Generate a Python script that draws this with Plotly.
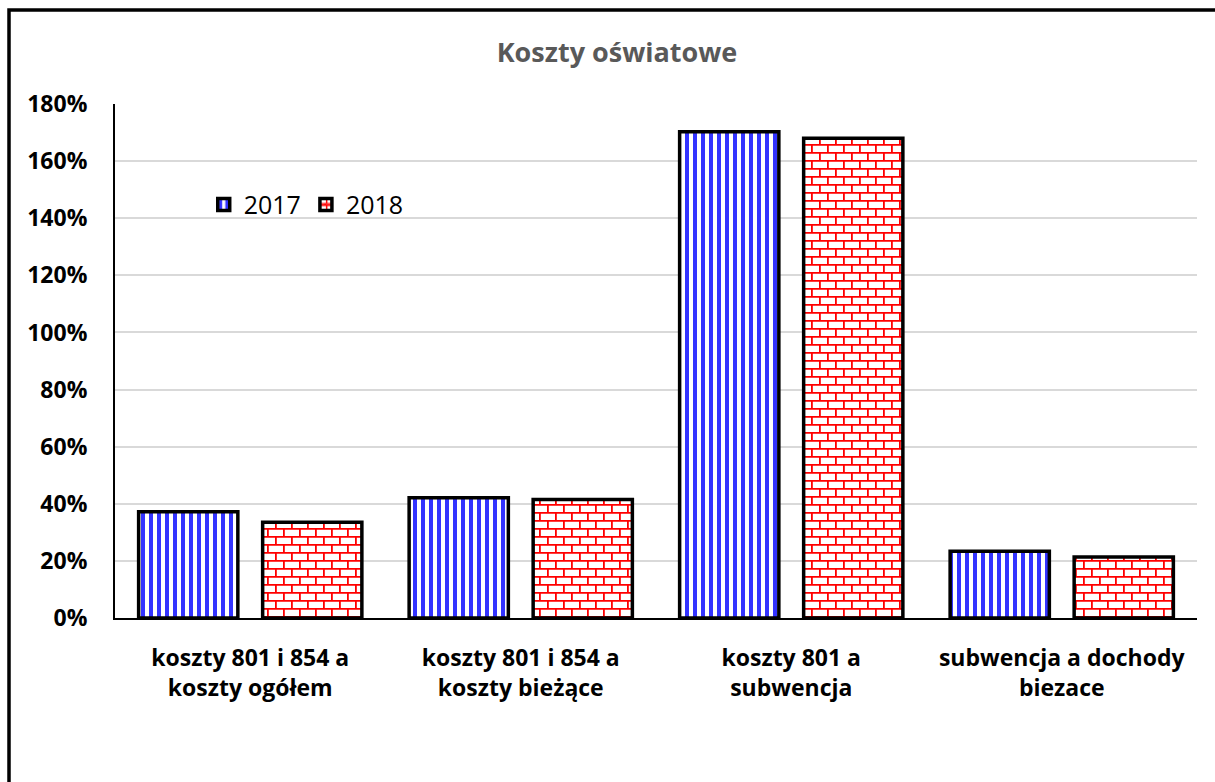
import plotly.graph_objects as go

categories = [
    "koszty 801 i 854 a<br>koszty ogółem",
    "koszty 801 i 854 a<br>koszty bieżące",
    "koszty 801 a<br>subwencja",
    "subwencja a dochody<br>biezace",
]
series_names = ["2017", "2018"]
values_2017 = [0.372, 0.421, 1.703, 0.234]
values_2018 = [0.335, 0.415, 1.680, 0.214]
y_tick_values = [0, 0.2, 0.4, 0.6, 0.8, 1.0, 1.2, 1.4, 1.6, 1.8]

FONT = "Open Sans"

brick_path = "M0,0H16V1.8H0Z M0,8H16V9.8H0Z M0,0H1.8V8H0Z M8,8H9.8V16H8Z"

fig = go.Figure()
fig.add_trace(go.Bar(
    x=categories, y=values_2017, name=series_names[0],
    marker=dict(
        color="#3333FF",
        line=dict(color="black", width=3.5),
        pattern=dict(shape="|", fgcolor="#3333FF", bgcolor="white", fgopacity=1,
                     size=8, solidity=0.5),
    ),
))
fig.add_trace(go.Bar(
    x=categories, y=values_2018, name=series_names[1],
    marker=dict(
        color="#FF0000",
        line=dict(color="black", width=3.5),
        pattern=dict(path=brick_path, fgcolor="#FF0000", bgcolor="white", fgopacity=1,
                     size=16),
    ),
))

fig.update_layout(
    width=1215, height=782,
    paper_bgcolor="white", plot_bgcolor="white",
    margin=dict(l=115, r=18, t=104, b=164),
    barmode="group", bargap=0.083, bargroupgap=0.2,
    font=dict(family=FONT, color="black"),
    title=dict(
        text="Koszty oświatowe", x=617 / 1215, xref="container", xanchor="center",
        y=1 - 53 / 782, yanchor="middle",
        font=dict(family=FONT, size=27, color="#595959", weight="bold"),
    ),
    legend=dict(
        orientation="h", x=0.082, y=0.804, xanchor="left", yanchor="middle",
        font=dict(family=FONT, size=25, color="black"),
        bgcolor="rgba(0,0,0,0)", itemwidth=30, tracegroupgap=0,
    ),
    showlegend=True,
)
fig.update_yaxes(
    range=[0, 1.8], tickvals=y_tick_values, tickformat=".0%",
    showgrid=True, gridcolor="#d9d9d9", gridwidth=2,
    showline=True, linecolor="black", linewidth=2, zeroline=False,
    tickfont=dict(family=FONT, size=23, color="black", weight="bold"),
    ticks="", ticklabelstandoff=21,
)
fig.update_xaxes(
    showline=True, linecolor="black", linewidth=2, showgrid=False,
    tickfont=dict(family=FONT, size=23, color="black", weight="bold"),
    ticks="", ticklabelstandoff=18,
)
fig.add_shape(
    type="rect", xref="paper", yref="paper",
    x0=(9 - 115) / 1082, x1=(1230 - 115) / 1082,
    y0=(618.5 - 800) / 514.5, y1=(618.5 - 10) / 514.5,
    line=dict(color="black", width=3.5), fillcolor="rgba(0,0,0,0)", layer="above",
)

fig.write_html(
    "out.html",
    config={"displayModeBar": False},
    post_script="document.body.style.margin='0';",
)
